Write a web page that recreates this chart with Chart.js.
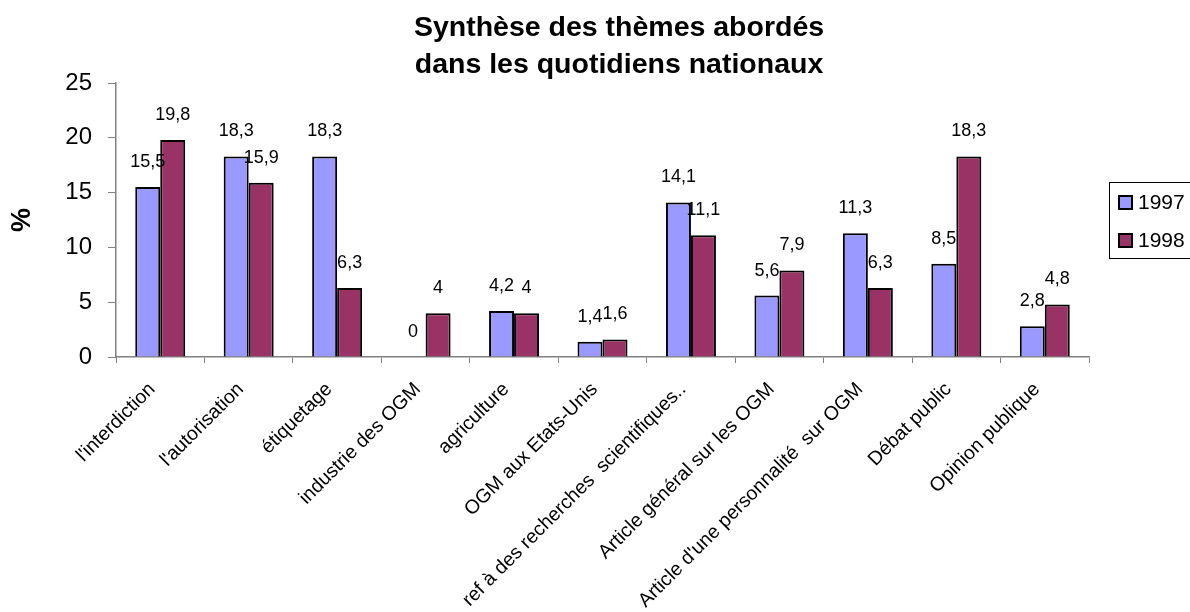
<!DOCTYPE html>
<html>
<head>
<meta charset="utf-8">
<script src="https://cdn.jsdelivr.net/npm/chart.js@4.4.0/dist/chart.umd.min.js"></script>
<style>
  html, body { margin: 0; padding: 0; background: #fff; }
  #wrap { position: relative; width: 1190px; height: 612px; }
</style>
</head>
<body>
<div id="wrap"><canvas id="chart"></canvas></div>
<script>
// Data
const themes = [
  "l'interdiction",
  "l'autorisation",
  "étiquetage",
  "industrie des OGM",
  "agriculture",
  "OGM aux Etats-Unis",
  "ref à des recherches  scientifiques..",
  "Article général sur les OGM",
  "Article d'une personnalité  sur OGM",
  "Débat public",
  "Opinion publique"
];
const years = ['1997', '1998'];
const values1997 = [15.5, 18.3, 18.3, 0, 4.2, 1.4, 14.1, 5.6, 11.3, 8.5, 2.8];
const values1998 = [19.8, 15.9, 6.3, 4, 4, 1.6, 11.1, 7.9, 6.3, 18.3, 4.8];
const yTicks = [0, 5, 10, 15, 20, 25];
const titleLines = ['Synthèse des thèmes abordés', 'dans les quotidiens nationaux'];
const yTitle = '%';

const FONT = "'Liberation Sans', Arial, sans-serif";
const colors = ['#9999FF', '#993366'];

const fmt = v => String(v).replace('.', ',');

// value labels above each bar
const valueLabels = {
  id: 'valueLabels',
  afterDatasetsDraw(chart) {
    const ctx = chart.ctx;
    ctx.save();
    ctx.font = '18px ' + FONT;
    ctx.fillStyle = '#000';
    ctx.textAlign = 'center';
    ctx.textBaseline = 'middle';
    chart.data.datasets.forEach((ds, i) => {
      chart.getDatasetMeta(i).data.forEach((bar, j) => {
        ctx.fillText(fmt(ds.data[j]), bar.x, bar.y - 25);
      });
    });
    ctx.restore();
  }
};

// title (offset to the right like the original) and boxed legend
const decorations = {
  id: 'decorations',
  afterDraw(chart) {
    const ctx = chart.ctx;
    ctx.save();
    ctx.fillStyle = '#000';
    ctx.textAlign = 'center';
    ctx.textBaseline = 'alphabetic';
    ctx.font = 'bold 28.5px ' + FONT;
    titleLines.forEach((line, i) => ctx.fillText(line, 619, 36 + i * 37));

    // legend
    ctx.strokeStyle = '#000';
    ctx.lineWidth = 1;
    ctx.strokeRect(1109.5, 182.5, 100, 76);
    ctx.font = '21px ' + FONT;
    ctx.textAlign = 'left';
    ctx.textBaseline = 'middle';
    chart.data.datasets.forEach((ds, i) => {
      const y = 195 + i * 38;
      ctx.fillStyle = ds.backgroundColor;
      ctx.fillRect(1118, y, 15, 15);
      ctx.lineWidth = 2;
      ctx.strokeRect(1119, y + 1, 13, 13);
      ctx.fillStyle = '#000';
      ctx.fillText(ds.label, 1138, y + 8);
    });
    ctx.restore();
  }
};

new Chart(document.getElementById('chart'), {
  type: 'bar',
  data: {
    labels: themes,
    datasets: [
      { label: years[0], data: values1997, backgroundColor: colors[0], borderColor: '#000', borderWidth: 2 },
      { label: years[1], data: values1998, backgroundColor: colors[1], borderColor: '#000', borderWidth: 2 }
    ]
  },
  options: {
    responsive: true,
    maintainAspectRatio: false,
    animation: false,
    datasets: { bar: { categoryPercentage: 0.565, barPercentage: 1.0 } },
    layout: { padding: { top: 83, right: 101, left: 0, bottom: 0 } },
    plugins: {
      legend: { display: false },
      title: { display: false },
      tooltip: { enabled: false }
    },
    scales: {
      x: {
        grid: { drawOnChartArea: false, drawTicks: true, tickLength: 6, color: '#808080' },
        border: { color: '#808080', width: 1.5 },
        ticks: {
          color: '#000',
          font: { family: FONT, size: 19.5 },
          maxRotation: 45,
          minRotation: 45,
          autoSkip: false,
          padding: 15,
          labelOffset: -8
        },
        afterFit: s => { s.height = 255; }
      },
      y: {
        min: 0,
        max: 25,
        afterBuildTicks: s => { s.ticks = yTicks.map(v => ({ value: v })); },
        grid: { drawOnChartArea: false, drawTicks: true, tickLength: 8, color: '#808080' },
        border: { color: '#808080', width: 1.5 },
        ticks: { color: '#000', font: { family: FONT, size: 24 }, padding: 16 },
        title: { display: true, text: yTitle, color: '#000', font: { family: FONT, size: 27, weight: 'bold' }, padding: { top: 6, bottom: 0 } },
        afterFit: s => { s.width = 116; }
      }
    }
  },
  plugins: [valueLabels, decorations]
});
</script>
</body>
</html>
